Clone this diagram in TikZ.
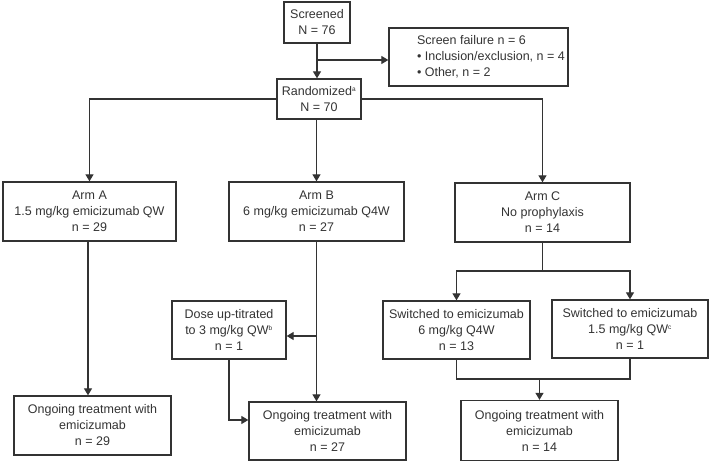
\documentclass[tikz,border=0pt]{standalone}
\usepackage{fontspec}
\setmainfont{Liberation Sans}
\usetikzlibrary{arrows.meta}
\definecolor{ln}{HTML}{333333}
\definecolor{tx}{HTML}{333333}
\newcommand{\sps}[1]{\textsuperscript{\fontsize{6.5}{6.5}\selectfont #1}}
\begin{document}
\begin{tikzpicture}[x=1pt,y=-1pt,
  box/.style={draw=ln,line width=1.3pt,align=center,inner sep=2pt,text=tx,
    font=\fontsize{12.5}{16}\selectfont},
  conn/.style={draw=ln,line width=1.2pt},
  arr/.style={conn,-{Triangle[width=8pt,length=7pt]}}]
\useasboundingbox (0,0) rectangle (709,462);
\node[box,minimum width=66pt,minimum height=41pt] (scr) at (317,22.5) {Screened\\N = 76};
\node[box,minimum width=179pt,minimum height=58pt,inner xsep=0pt] (fail) at (478.5,57)
  {\makebox[179pt][l]{\hspace{28pt}\begin{tabular}{@{}l@{}}Screen failure n = 6\\• Inclusion/exclusion, n = 4\\• Other, n = 2\end{tabular}}};
\node[box,minimum width=84pt,minimum height=40pt] (rnd) at (319,99) {Randomized\sps{a}\\N = 70};
\node[box,minimum width=173pt,minimum height=59pt] (armA) at (89.5,211.5) {Arm A\\1.5 mg/kg emicizumab QW\\n = 29};
\node[box,minimum width=175pt,minimum height=59pt] (armB) at (316.5,211.5) {Arm B\\6 mg/kg emicizumab Q4W\\n = 27};
\node[box,minimum width=175pt,minimum height=59pt] (armC) at (542.5,212.5) {Arm C\\No prophylaxis\\n = 14};
\node[box,minimum width=114pt,minimum height=58pt] (dose) at (229,330) {Dose up-titrated\\to 3 mg/kg QW\sps{b}\\n = 1};
\node[box,minimum width=147pt,minimum height=58pt] (sw1) at (456.5,330) {Switched to emicizumab\\6 mg/kg Q4W\\n = 13};
\node[box,minimum width=156pt,minimum height=58pt] (sw2) at (630,329) {Switched to emicizumab\\1.5 mg/kg QW\sps{c}\\n = 1};
\node[box,minimum width=157pt,minimum height=59pt] (ongA) at (92.5,425.5) {Ongoing treatment with\\emicizumab\\n = 29};
\node[box,minimum width=157pt,minimum height=58pt] (ongB) at (327.5,431) {Ongoing treatment with\\emicizumab\\n = 27};
\node[box,minimum width=157pt,minimum height=60pt] (ongC) at (539.5,430.5) {Ongoing treatment with\\emicizumab\\n = 14};
% connectors
\coordinate (j1) at (317,60);
\draw[arr] (scr.south) -- (scr.south |- rnd.north);
\draw[arr] (j1) -- (j1 -| fail.west);
\draw[arr] (rnd.west) -| (armA.north);
\draw[arr] (rnd.east) -| (armC.north);
\draw[arr] (rnd.south -| armB.north) -- (armB.north);
\draw[arr] (armA.south -| 88,0) -- (ongA.north -| 88,0);
\draw[arr] (armB.south) -- (armB.south |- ongB.north);
\coordinate (j2) at (316.5,336);
\draw[arr] (j2) -- (j2 -| dose.east);
\draw[arr] (dose.south) |- ([yshift=11pt]ongB.west);
\coordinate (j3) at (542.5,271);
\draw[conn] (armC.south) -- (j3);
\draw[arr] (j3) -| (sw1.north);
\draw[arr] (j3) -| (sw2.north);
\coordinate (j4) at (539.5,379);
\draw[conn] (sw1.south) -- (sw1.south |- j4) -- (sw2.south |- j4) -- (sw2.south);
\draw[arr] (j4) -- (ongC.north);
\end{tikzpicture}
\end{document}
